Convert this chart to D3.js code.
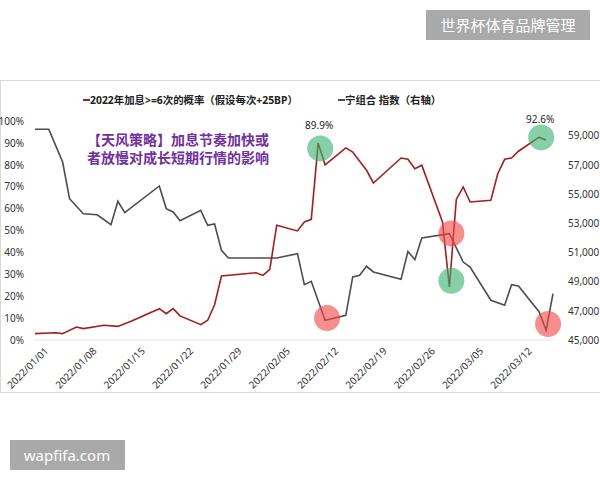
<!DOCTYPE html>
<html lang="zh">
  <head>
    <meta charset="utf-8" />
    <style>
      body { margin: 0; background: #fff; }
      text { font-family: "Noto Sans", "Noto Sans CJK SC", sans-serif; }
    </style>
  </head>
  <body>
    <script src="https://d3js.org/d3.v7.min.js"></script>
    <script>
      // data
      var rateDates = ["2021-12-31","2022-01-03","2022-01-04","2022-01-06","2022-01-07","2022-01-10","2022-01-12","2022-01-14",
        "2022-01-18","2022-01-19","2022-01-20","2022-01-21","2022-01-24","2022-01-25","2022-01-26","2022-01-27",
        "2022-02-01","2022-02-02","2022-02-03","2022-02-04","2022-02-07","2022-02-08","2022-02-09","2022-02-10",
        "2022-02-11","2022-02-14","2022-02-15","2022-02-17","2022-02-18","2022-02-22","2022-02-23","2022-02-24",
        "2022-02-25","2022-02-28","2022-03-01","2022-03-02","2022-03-03","2022-03-04","2022-03-07","2022-03-08",
        "2022-03-09","2022-03-10","2022-03-11","2022-03-14","2022-03-15"];
      var rateValues = [2.9,3.3,2.9,5.9,5.2,6.7,6.2,8.7,
        14.3,12.0,14.3,11.0,7.0,9.0,16.1,29.2,
        30.7,29.5,32.3,52.4,49.8,53.9,55.1,89.9,
        80.0,87.7,85.8,77.5,71.7,83.1,82.5,78.2,
        79.8,53.9,24.2,64.2,69.9,63.0,63.8,75.9,
        82.5,83.1,86.2,92.6,91.2];

      var indexDates = ["2021-12-31","2022-01-02","2022-01-04","2022-01-05","2022-01-07","2022-01-09","2022-01-11","2022-01-12",
        "2022-01-13","2022-01-18","2022-01-19","2022-01-20","2022-01-21","2022-01-24","2022-01-25","2022-01-26",
        "2022-01-27","2022-01-28","2022-02-04","2022-02-07","2022-02-08","2022-02-09","2022-02-11","2022-02-14",
        "2022-02-15","2022-02-16","2022-02-17","2022-02-18","2022-02-22","2022-02-23","2022-02-24","2022-02-25",
        "2022-03-01","2022-03-03","2022-03-04","2022-03-07","2022-03-09","2022-03-10","2022-03-11","2022-03-14",
        "2022-03-15","2022-03-16"];
      var indexValues = [59430,59430,57190,54680,53650,53580,52900,54500,
        53720,55550,54000,53770,53170,53880,52860,52950,
        51140,50620,50620,50910,48790,49020,46350,46690,
        49320,49430,50050,49660,49160,51070,50500,51990,
        52280,50340,50000,47720,47380,48790,48700,46920,
        45660,48170];

      var xTickDates = ["2022-01-01","2022-01-08","2022-01-15","2022-01-22","2022-01-29","2022-02-05",
        "2022-02-12","2022-02-19","2022-02-26","2022-03-05","2022-03-12"];
      var leftTicks = [0,10,20,30,40,50,60,70,80,90,100];
      var rightTicks = [45000,47000,49000,51000,53000,55000,57000,59000];

      // highlight circles: date, value, axis, colour
      var marks = [
        { date: "2022-02-10", value: 87.5, axis: "left", color: "#3cb371" },
        { date: "2022-02-11", value: 46500, axis: "right", color: "#f24848" },
        { date: "2022-03-01", value: 52300, axis: "right", color: "#f24848" },
        { date: "2022-03-01", value: 27, axis: "left", color: "#3cb371" },
        { date: "2022-03-14", value: 92.5, axis: "left", color: "#3cb371" },
        { date: "2022-03-15", value: 46100, axis: "right", color: "#f24848" }
      ];
      var peakLabels = [
        { date: "2022-02-10", value: 89.9, text: "89.9%" },
        { date: "2022-03-14", value: 92.6, text: "92.6%" }
      ];

      var width = 600, height = 480;
      var parse = d3.timeParse("%Y-%m-%d");
      var fmt = d3.timeFormat("%Y/%m/%d");

      var svg = d3.select("body").append("svg")
        .attr("width", width)
        .attr("height", height);

      // chart frame
      svg.append("rect")
        .attr("x", 0.5).attr("y", 80.5)
        .attr("width", 610).attr("height", 312)
        .attr("fill", "#fff")
        .attr("stroke", "#d9d9d9");

      var x = d3.scaleTime()
        .domain([parse("2021-12-31"), parse("2022-03-16")])
        .range([35, 553]);
      var yL = d3.scaleLinear().domain([0, 100]).range([340, 121]);
      var yR = d3.scaleLinear().domain([45000, 60000]).range([340, 121]);

      // baseline
      svg.append("line")
        .attr("x1", 35).attr("x2", 553)
        .attr("y1", yL(0)).attr("y2", yL(0))
        .attr("stroke", "#e6e6e6");

      // left axis
      var axL = svg.append("g").attr("transform", "translate(27,0)")
        .call(d3.axisLeft(yL).tickValues(leftTicks).tickSize(0).tickFormat(function (d) { return d + "%"; }));
      axL.select(".domain").remove();
      axL.selectAll("text").attr("font-size", 10).attr("fill", "#333")
        .style("font-family", "Noto Sans");

      // right axis
      var axR = svg.append("g").attr("transform", "translate(565,0)")
        .call(d3.axisRight(yR).tickValues(rightTicks).tickSize(0).tickFormat(d3.format(",")));
      axR.select(".domain").remove();
      axR.selectAll("text").attr("font-size", 10).attr("fill", "#333")
        .style("font-family", "Noto Sans");

      // x axis with rotated labels
      var axX = svg.append("g").attr("transform", "translate(0,345)")
        .call(d3.axisBottom(x).tickValues(xTickDates.map(parse)).tickSize(0).tickFormat(fmt));
      axX.select(".domain").remove();
      axX.selectAll("text")
        .attr("font-size", 10).attr("fill", "#333")
        .style("font-family", "Noto Sans")
        .attr("text-anchor", "end")
        .attr("dy", "0.35em")
        .attr("transform", "translate(2,2) rotate(-45)");

      // lines
      var rateData = rateDates.map(function (d, i) { return { date: parse(d), value: rateValues[i] }; });
      var indexData = indexDates.map(function (d, i) { return { date: parse(d), value: indexValues[i] }; });

      svg.append("path").datum(indexData)
        .attr("fill", "none").attr("stroke", "#4d4d4d").attr("stroke-width", 1.6)
        .attr("d", d3.line().x(function (d) { return x(d.date); }).y(function (d) { return yR(d.value); }));
      svg.append("path").datum(rateData)
        .attr("fill", "none").attr("stroke", "#a51d1d").attr("stroke-width", 1.6)
        .attr("d", d3.line().x(function (d) { return x(d.date); }).y(function (d) { return yL(d.value); }));

      // highlight circles
      svg.selectAll("circle.mark").data(marks).join("circle")
        .attr("class", "mark")
        .attr("cx", function (d) { return x(parse(d.date)) + 2; })
        .attr("cy", function (d) { return d.axis == "left" ? yL(d.value) : yR(d.value); })
        .attr("r", 13)
        .attr("fill", function (d) { return d.color; })
        .attr("opacity", 0.62);

      svg.selectAll("text.peak").data(peakLabels).join("text")
        .attr("class", "peak")
        .attr("x", function (d) { return x(parse(d.date)) + 1; })
        .attr("y", function (d) { return yL(d.value) - 14; })
        .attr("text-anchor", "middle")
        .attr("font-size", 10).attr("fill", "#222")
        .text(function (d) { return d.text; });

      // legend
      var lg = svg.append("g").style("font-family", "Noto Sans CJK SC").attr("font-weight", "bold").attr("font-size", 10.4);
      lg.append("line").attr("x1", 83).attr("x2", 90).attr("y1", 100).attr("y2", 100).attr("stroke", "#a51d1d").attr("stroke-width", 2);
      lg.append("text").attr("x", 90).attr("y", 104).attr("fill", "#222").text("2022年加息>=6次的概率（假设每次+25BP）");
      lg.append("line").attr("x1", 338).attr("x2", 345).attr("y1", 100).attr("y2", 100).attr("stroke", "#4d4d4d").attr("stroke-width", 2);
      lg.append("text").attr("x", 345).attr("y", 104).attr("fill", "#222").text("宁组合 指数（右轴）");

      // title annotation
      var note = svg.append("g").style("font-family", "Noto Sans CJK SC").attr("font-weight", "bold")
        .attr("font-size", 14).attr("fill", "#7030a0").attr("text-anchor", "middle");
      note.append("text").attr("x", 178).attr("y", 145).text("【天风策略】加息节奏加快或");
      note.append("text").attr("x", 178).attr("y", 163).text("者放慢对成长短期行情的影响");

      // watermarks
      svg.append("rect").attr("x", 426).attr("y", 10).attr("width", 164).attr("height", 30).attr("fill", "#a9a9a9");
      svg.append("text").attr("x", 508).attr("y", 31).attr("text-anchor", "middle").attr("fill", "#fff")
        .attr("font-size", 15).style("font-family", "Noto Sans CJK SC").text("世界杯体育品牌管理");
      svg.append("rect").attr("x", 10).attr("y", 440).attr("width", 115).attr("height", 30).attr("fill", "#a9a9a9");
      svg.append("text").attr("x", 67).attr("y", 461).attr("text-anchor", "middle").attr("fill", "#fff")
        .attr("font-size", 15).style("font-family", "Noto Sans").text("wapfifa.com");

      console.log("ready..");
    </script>
  </body>
</html>
